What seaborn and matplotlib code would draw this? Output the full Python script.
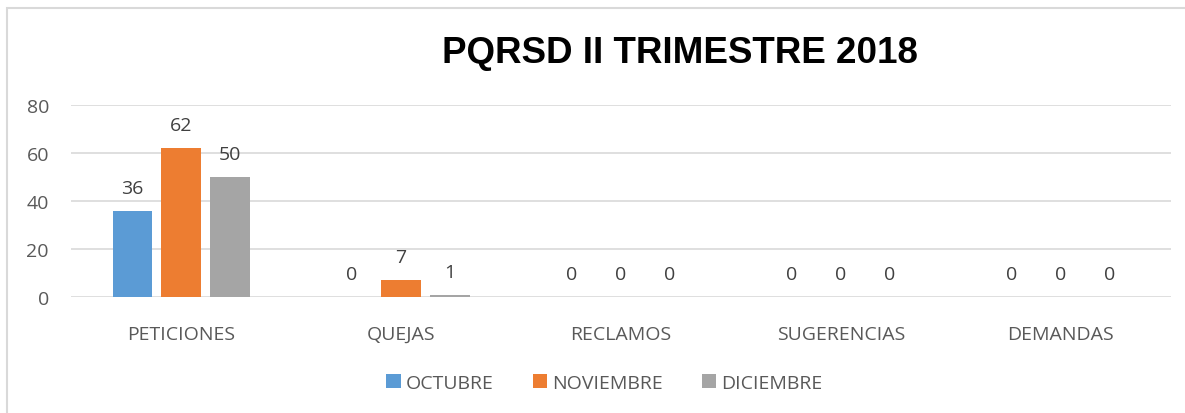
import pandas as pd
import seaborn as sns
import matplotlib.pyplot as plt
from matplotlib.patches import Rectangle

# data
categorias = ['PETICIONES', 'QUEJAS', 'RECLAMOS', 'SUGERENCIAS', 'DEMANDAS']
octubre = [36, 0, 0, 0, 0]
noviembre = [62, 7, 0, 0, 0]
diciembre = [50, 1, 0, 0, 0]
meses = ['OCTUBRE', 'NOVIEMBRE', 'DICIEMBRE']
colores = ['#5B9BD5', '#ED7D31', '#A5A5A5']

df = pd.DataFrame({
    'categoria': categorias * 3,
    'mes': [m for m in meses for _ in categorias],
    'valor': octubre + noviembre + diciembre,
})

sns.set_style('white')
plt.rcParams['font.family'] = ['Open Sans', 'DejaVu Sans']
texto = '#595959'

fig = plt.figure(figsize=(11.85, 4.14), dpi=100)
ax = fig.add_axes([0.060, 0.280, 0.928, 0.464])

sns.barplot(data=df, x='categoria', y='valor', hue='mes', palette=colores,
            saturation=1, linewidth=0, width=0.668, gap=0.2, ax=ax, legend=True)

for cont in ax.containers:
    ax.bar_label(cont, fmt='%d', padding=10, fontsize=14, color='#404040')

ax.set_ylim(0, 80)
ax.set_yticks([0, 20, 40, 60, 80])
ax.yaxis.grid(True, color='#D9D9D9', linewidth=1.2)
ax.set_axisbelow(True)
for s in ax.spines.values():
    s.set_visible(False)
ax.set_xlabel('')
ax.set_ylabel('')
ax.tick_params(axis='both', length=0, labelsize=14, labelcolor=texto)
ax.tick_params(axis='x', pad=20)
ax.tick_params(axis='y', pad=16)

ax.legend(loc='center', bbox_to_anchor=(0.485, -0.445), ncol=3, frameon=False,
          fontsize=14, labelcolor=texto, handlelength=0.75, handleheight=0.75,
          handletextpad=0.25, columnspacing=2.0)

fig.text(0.574, 0.87, 'PQRSD II TRIMESTRE 2018', ha='center', va='center',
         fontsize=26.5, fontweight='bold', family='Liberation Sans', color='black')

# outer chart border
fig.patches.append(Rectangle((7 / 1185, -0.1), 1.2, 1 - 9 / 414 + 0.1,
                             transform=fig.transFigure, fill=False,
                             edgecolor='#D9D9D9', linewidth=1.5))

fig.savefig('out.png', dpi=100)
